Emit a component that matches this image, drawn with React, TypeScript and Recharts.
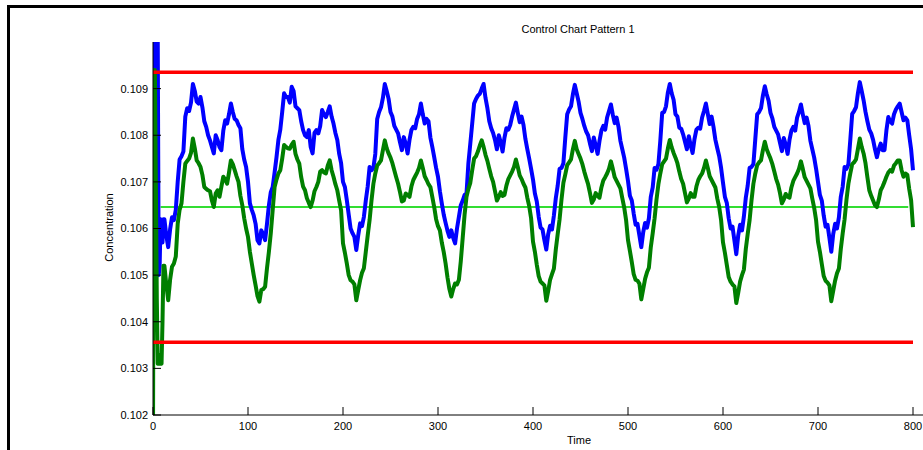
import React from 'react';
import { LineChart, Line, XAxis, YAxis } from 'recharts';

const FONT = '"Liberation Sans", Arial, sans-serif';

// Time stamps (x values)
const TIME = [
  0, 1, 2, 3, 4, 5, 6, 7, 8, 9, 10, 11,
  12, 14, 16, 18, 20, 22, 24, 26, 28, 30, 32, 34, 36, 38, 40, 42, 44, 46, 48, 50,
  52, 54, 56, 58, 60, 62, 64, 66, 68, 70, 72, 74, 76, 78, 80, 82, 84, 86, 88, 90, 92, 94, 96, 98,
  100, 102, 104, 106, 108, 110, 112, 114, 116, 118, 120, 122, 124, 126, 128, 130, 132, 134, 136, 138,
  140, 142, 144, 146, 148, 150, 152, 154, 156, 158, 160, 162, 164, 166, 168, 170, 172, 174, 176, 178,
  180, 182, 184, 186, 188, 190, 192, 194, 196, 198,
  200, 202, 204, 206, 208, 210, 212, 214, 216, 218, 220, 222, 224, 226, 228, 230, 232, 234, 236, 238,
  240, 242, 244, 246, 248, 250, 252, 254, 256, 258, 260, 262, 264, 266, 268, 270, 272, 274, 276, 278,
  280, 282, 284, 286, 288, 290, 292, 294, 296, 298,
  300, 302, 304, 306, 308, 310, 312, 314, 316, 318, 320, 322, 324, 326, 328, 330, 332, 334, 336, 338,
  340, 342, 344, 346, 348, 350, 352, 354, 356, 358, 360, 362, 364, 366, 368, 370, 372, 374, 376, 378,
  380, 382, 384, 386, 388, 390, 392, 394, 396, 398,
  400, 402, 404, 406, 408, 410, 412, 414, 416, 418, 420, 422, 424, 426, 428, 430, 432, 434, 436, 438,
  440, 442, 444, 446, 448, 450, 452, 454, 456, 458, 460, 462, 464, 466, 468, 470, 472, 474, 476, 478,
  480, 482, 484, 486, 488, 490, 492, 494, 496, 498,
  500, 502, 504, 506, 508, 510, 512, 514, 516, 518, 520, 522, 524, 526, 528, 530, 532, 534, 536, 538,
  540, 542, 544, 546, 548, 550, 552, 554, 556, 558, 560, 562, 564, 566, 568, 570, 572, 574, 576, 578,
  580, 582, 584, 586, 588, 590, 592, 594, 596, 598,
  600, 602, 604, 606, 608, 610, 612, 614, 616, 618, 620, 622, 624, 626, 628, 630, 632, 634, 636, 638,
  640, 642, 644, 646, 648, 650, 652, 654, 656, 658, 660, 662, 664, 666, 668, 670, 672, 674, 676, 678,
  680, 682, 684, 686, 688, 690, 692, 694, 696, 698,
  700, 702, 704, 706, 708, 710, 712, 714, 716, 718, 720, 722, 724, 726, 728, 730, 732, 734, 736, 738,
  740, 742, 744, 746, 748, 750, 752, 754, 756, 758, 760, 762, 764, 766, 768, 770, 772, 774, 776, 778,
  780, 782, 784, 786, 788, 790, 792, 794, 796, 798,
  800,
];

// Blue series (concentration)
const BLUE = [
  0.1048, 0.1085, 0.1125, 0.1125, 0.1125, 0.1100, 0.1050, 0.1052, 0.1062, 0.1060, 0.1057, 0.1062,
  0.10620, 0.10585, 0.10560, 0.10598, 0.10624, 0.10618, 0.10640, 0.10700, 0.10748, 0.10755,
  0.10765, 0.10840, 0.10858, 0.10852, 0.10870, 0.10910, 0.10895, 0.10872, 0.10868, 0.10882,
  0.10860, 0.10830, 0.10818, 0.10800, 0.10789, 0.10775, 0.10761, 0.10800, 0.10790, 0.10775,
  0.10768, 0.10810, 0.10832, 0.10825, 0.10845, 0.10868, 0.10850, 0.10835, 0.10832, 0.10822,
  0.10815, 0.10770, 0.10748, 0.10732,
  // 100
  0.10700, 0.10654, 0.10640, 0.10628, 0.10610, 0.10575, 0.10568, 0.10596, 0.10588, 0.10575,
  0.10610, 0.10650, 0.10678, 0.10689, 0.10720, 0.10753, 0.10790, 0.10812, 0.10850, 0.10890,
  0.10882, 0.10882, 0.10870, 0.10904, 0.10895, 0.10862, 0.10858, 0.10854, 0.10830, 0.10811,
  0.10800, 0.10796, 0.10811, 0.10775, 0.10761, 0.10805, 0.10811, 0.10804, 0.10820, 0.10854,
  0.10845, 0.10839, 0.10850, 0.10862, 0.10840, 0.10825, 0.10805, 0.10790, 0.10760, 0.10740,
  // 200
  0.10700, 0.10689, 0.10661, 0.10630, 0.10600, 0.10590, 0.10582, 0.10554, 0.10585, 0.10611,
  0.10605, 0.10625, 0.10660, 0.10690, 0.10732, 0.10725, 0.10730, 0.10760, 0.10835, 0.10850,
  0.10860, 0.10880, 0.10910, 0.10895, 0.10878, 0.10850, 0.10840, 0.10820, 0.10812, 0.10804,
  0.10785, 0.10768, 0.10796, 0.10782, 0.10761, 0.10790, 0.10811, 0.10818, 0.10815, 0.10835,
  0.10845, 0.10868, 0.10845, 0.10825, 0.10835, 0.10830, 0.10795, 0.10775, 0.10753, 0.10730,
  // 300
  0.10711, 0.10680, 0.10654, 0.10630, 0.10612, 0.10595, 0.10582, 0.10596, 0.10580, 0.10568,
  0.10600, 0.10625, 0.10650, 0.10660, 0.10672, 0.10675, 0.10740, 0.10782, 0.10825, 0.10868,
  0.10878, 0.10885, 0.10889, 0.10900, 0.10910, 0.10880, 0.10858, 0.10830, 0.10815, 0.10805,
  0.10790, 0.10770, 0.10800, 0.10785, 0.10765, 0.10795, 0.10815, 0.10812, 0.10822, 0.10840,
  0.10855, 0.10870, 0.10848, 0.10828, 0.10840, 0.10822, 0.10792, 0.10770, 0.10750, 0.10728,
  // 400
  0.10705, 0.10675, 0.10658, 0.10625, 0.10602, 0.10598, 0.10575, 0.10555, 0.10588, 0.10606,
  0.10598, 0.10628, 0.10665, 0.10692, 0.10728, 0.10730, 0.10740, 0.10795, 0.10845, 0.10855,
  0.10862, 0.10888, 0.10908, 0.10890, 0.10872, 0.10848, 0.10835, 0.10820, 0.10808, 0.10800,
  0.10782, 0.10766, 0.10795, 0.10778, 0.10760, 0.10788, 0.10810, 0.10820, 0.10812, 0.10838,
  0.10852, 0.10866, 0.10844, 0.10826, 0.10838, 0.10818, 0.10788, 0.10770, 0.10752, 0.10728,
  // 500
  0.10702, 0.10670, 0.10660, 0.10632, 0.10608, 0.10610, 0.10585, 0.10560, 0.10592, 0.10612,
  0.10602, 0.10622, 0.10668, 0.10688, 0.10730, 0.10726, 0.10738, 0.10788, 0.10848, 0.10850,
  0.10862, 0.10892, 0.10910, 0.10890, 0.10876, 0.10845, 0.10840, 0.10816, 0.10814, 0.10802,
  0.10786, 0.10770, 0.10798, 0.10778, 0.10762, 0.10792, 0.10812, 0.10816, 0.10814, 0.10838,
  0.10852, 0.10868, 0.10846, 0.10824, 0.10840, 0.10818, 0.10790, 0.10772, 0.10755, 0.10730,
  // 600
  0.10698, 0.10668, 0.10655, 0.10622, 0.10600, 0.10604, 0.10575, 0.10545, 0.10585, 0.10608,
  0.10596, 0.10626, 0.10666, 0.10692, 0.10730, 0.10732, 0.10738, 0.10792, 0.10845, 0.10850,
  0.10858, 0.10885, 0.10905, 0.10888, 0.10874, 0.10848, 0.10836, 0.10818, 0.10810, 0.10802,
  0.10784, 0.10766, 0.10794, 0.10780, 0.10760, 0.10790, 0.10810, 0.10818, 0.10810, 0.10838,
  0.10850, 0.10866, 0.10845, 0.10826, 0.10838, 0.10820, 0.10788, 0.10770, 0.10752, 0.10728,
  // 700
  0.10700, 0.10672, 0.10660, 0.10628, 0.10604, 0.10608, 0.10580, 0.10550, 0.10588, 0.10610,
  0.10600, 0.10624, 0.10668, 0.10690, 0.10732, 0.10728, 0.10738, 0.10790, 0.10846, 0.10852,
  0.10860, 0.10890, 0.10914, 0.10895, 0.10875, 0.10850, 0.10830, 0.10812, 0.10804, 0.10790,
  0.10770, 0.10753, 0.10770, 0.10782, 0.10768, 0.10768, 0.10810, 0.10839, 0.10830, 0.10825,
  0.10845, 0.10855, 0.10862, 0.10868, 0.10850, 0.10832, 0.10838, 0.10832, 0.10800, 0.10770,
  0.10725,
];

// Green series (concentration)
const GREEN = [
  0.1015, 0.1094, 0.1094, 0.1070, 0.1045, 0.1031, 0.1032, 0.1031, 0.1033, 0.1031, 0.1040, 0.1052,
  0.10520, 0.10480, 0.10446, 0.10490, 0.10518, 0.10525, 0.10540, 0.10610, 0.10640, 0.10654,
  0.10700, 0.10739, 0.10745, 0.10750, 0.10762, 0.10793, 0.10772, 0.10746, 0.10740, 0.10732,
  0.10715, 0.10689, 0.10685, 0.10682, 0.10680, 0.10660, 0.10646, 0.10675, 0.10682, 0.10668,
  0.10690, 0.10711, 0.10705, 0.10696, 0.10720, 0.10746, 0.10738, 0.10725, 0.10712, 0.10700,
  0.10670, 0.10650, 0.10622, 0.10600,
  // 100
  0.10582, 0.10550, 0.10525, 0.10500, 0.10478, 0.10455, 0.10443, 0.10468, 0.10470, 0.10475,
  0.10515, 0.10550, 0.10590, 0.10640, 0.10689, 0.10705, 0.10718, 0.10725, 0.10750, 0.10779,
  0.10775, 0.10772, 0.10771, 0.10780, 0.10786, 0.10760, 0.10748, 0.10739, 0.10710, 0.10690,
  0.10682, 0.10665, 0.10655, 0.10646, 0.10660, 0.10680, 0.10689, 0.10700, 0.10722, 0.10725,
  0.10720, 0.10718, 0.10735, 0.10746, 0.10725, 0.10711, 0.10695, 0.10682, 0.10660, 0.10639,
  // 200
  0.10568, 0.10548, 0.10525, 0.10500, 0.10489, 0.10486, 0.10480, 0.10446, 0.10468, 0.10489,
  0.10505, 0.10515, 0.10550, 0.10585, 0.10618, 0.10660, 0.10696, 0.10718, 0.10735, 0.10740,
  0.10746, 0.10768, 0.10789, 0.10772, 0.10761, 0.10752, 0.10740, 0.10725, 0.10710, 0.10696,
  0.10678, 0.10658, 0.10660, 0.10675, 0.10672, 0.10668, 0.10690, 0.10704, 0.10712, 0.10720,
  0.10730, 0.10746, 0.10730, 0.10712, 0.10704, 0.10695, 0.10689, 0.10668, 0.10646, 0.10620,
  // 300
  0.10605, 0.10596, 0.10570, 0.10550, 0.10525, 0.10495, 0.10470, 0.10454, 0.10470, 0.10482,
  0.10480, 0.10490, 0.10530, 0.10580, 0.10630, 0.10668, 0.10685, 0.10698, 0.10725, 0.10750,
  0.10755, 0.10765, 0.10778, 0.10789, 0.10775, 0.10758, 0.10745, 0.10728, 0.10712, 0.10700,
  0.10680, 0.10660, 0.10668, 0.10678, 0.10670, 0.10672, 0.10692, 0.10706, 0.10714, 0.10722,
  0.10732, 0.10748, 0.10732, 0.10714, 0.10706, 0.10696, 0.10688, 0.10666, 0.10648, 0.10622,
  // 400
  0.10572, 0.10550, 0.10522, 0.10498, 0.10486, 0.10482, 0.10478, 0.10445, 0.10466, 0.10490,
  0.10502, 0.10514, 0.10555, 0.10588, 0.10620, 0.10662, 0.10698, 0.10716, 0.10736, 0.10742,
  0.10748, 0.10770, 0.10788, 0.10770, 0.10760, 0.10750, 0.10738, 0.10722, 0.10708, 0.10695,
  0.10676, 0.10655, 0.10662, 0.10676, 0.10670, 0.10666, 0.10688, 0.10703, 0.10710, 0.10718,
  0.10728, 0.10744, 0.10728, 0.10710, 0.10702, 0.10694, 0.10686, 0.10665, 0.10645, 0.10618,
  // 500
  0.10575, 0.10552, 0.10528, 0.10502, 0.10490, 0.10488, 0.10482, 0.10448, 0.10470, 0.10492,
  0.10506, 0.10516, 0.10560, 0.10590, 0.10622, 0.10662, 0.10695, 0.10718, 0.10738, 0.10744,
  0.10750, 0.10772, 0.10790, 0.10774, 0.10762, 0.10752, 0.10740, 0.10722, 0.10706, 0.10696,
  0.10676, 0.10656, 0.10664, 0.10676, 0.10668, 0.10668, 0.10690, 0.10704, 0.10712, 0.10718,
  0.10730, 0.10746, 0.10730, 0.10712, 0.10704, 0.10696, 0.10688, 0.10664, 0.10646, 0.10618,
  // 600
  0.10570, 0.10548, 0.10522, 0.10496, 0.10486, 0.10480, 0.10476, 0.10440, 0.10462, 0.10486,
  0.10500, 0.10512, 0.10556, 0.10588, 0.10618, 0.10660, 0.10696, 0.10718, 0.10736, 0.10742,
  0.10746, 0.10768, 0.10786, 0.10770, 0.10760, 0.10750, 0.10738, 0.10722, 0.10706, 0.10694,
  0.10676, 0.10654, 0.10662, 0.10674, 0.10668, 0.10666, 0.10688, 0.10702, 0.10710, 0.10718,
  0.10728, 0.10744, 0.10728, 0.10710, 0.10702, 0.10694, 0.10686, 0.10664, 0.10644, 0.10618,
  // 700
  0.10572, 0.10550, 0.10524, 0.10498, 0.10488, 0.10484, 0.10478, 0.10444, 0.10466, 0.10488,
  0.10504, 0.10514, 0.10556, 0.10590, 0.10620, 0.10662, 0.10696, 0.10718, 0.10738, 0.10742,
  0.10748, 0.10770, 0.10793, 0.10775, 0.10761, 0.10740, 0.10710, 0.10682, 0.10670, 0.10660,
  0.10650, 0.10646, 0.10662, 0.10682, 0.10690, 0.10700, 0.10711, 0.10720, 0.10725, 0.10722,
  0.10735, 0.10740, 0.10746, 0.10746, 0.10725, 0.10711, 0.10718, 0.10715, 0.10685, 0.10661,
  0.10603,
];

// Control limits
const UCL = 0.10935;
const CENTER = 0.10646;
const LCL = 0.10356;
const LIMIT_SPAN = [0, 800];
const CENTER_SPAN = [8, 795];

const X_TICKS = [0, 100, 200, 300, 400, 500, 600, 700, 800, 900];
const Y_TICKS = [0.102, 0.103, 0.104, 0.105, 0.106, 0.107, 0.108, 0.109];

const data = TIME.map((t, i) => ({ t, blue: BLUE[i], green: GREEN[i] }));
const uclData = LIMIT_SPAN.map((t) => ({ t, v: UCL }));
const lclData = LIMIT_SPAN.map((t) => ({ t, v: LCL }));
const clData = CENTER_SPAN.map((t) => ({ t, v: CENTER }));

const tickStyle = { fill: '#000', fontSize: 11, fontFamily: FONT };
const textStyle: React.CSSProperties = {
  position: 'absolute',
  fontFamily: FONT,
  fontSize: 11,
  lineHeight: '13px',
  color: '#000',
  textAlign: 'center',
  whiteSpace: 'nowrap',
};

export default function App() {
  return (
    <div
      style={{
        position: 'absolute',
        left: 7,
        top: 5,
        width: 916,
        height: 445,
        boxSizing: 'border-box',
        borderTop: '3px solid #000',
        borderLeft: '3px solid #000',
        overflow: 'hidden',
        background: '#fff',
      }}
    >
      <LineChart
        width={1100}
        height={442}
        data={data}
        margin={{ top: 34, right: 102, bottom: 5, left: 83 }}
      >
        <XAxis
          type="number"
          dataKey="t"
          domain={[0, 900]}
          ticks={X_TICKS}
          interval={0}
          tickSize={-8}
          tickMargin={15}
          height={30}
          stroke="#000"
          tick={tickStyle}
          allowDataOverflow
        />
        <YAxis
          type="number"
          domain={[0.102, 0.11]}
          ticks={Y_TICKS}
          interval={0}
          tickSize={-8}
          tickMargin={13}
          width={60}
          stroke="#000"
          tick={tickStyle}
          tickFormatter={(v: number) => v.toFixed(3)}
          allowDataOverflow
        />
        <Line
          data={clData}
          dataKey="v"
          stroke="#33DD33"
          strokeWidth={2}
          dot={false}
          activeDot={false}
          isAnimationActive={false}
        />
        <Line
          dataKey="blue"
          stroke="#0000FF"
          strokeWidth={4}
          strokeLinejoin="round"
          dot={false}
          activeDot={false}
          isAnimationActive={false}
        />
        <Line
          dataKey="green"
          stroke="#007F00"
          strokeWidth={4}
          strokeLinejoin="round"
          dot={false}
          activeDot={false}
          isAnimationActive={false}
        />
        <Line
          data={uclData}
          dataKey="v"
          stroke="#FF0000"
          strokeWidth={3.5}
          dot={false}
          activeDot={false}
          isAnimationActive={false}
        />
        <Line
          data={lclData}
          dataKey="v"
          stroke="#FF0000"
          strokeWidth={3.5}
          dot={false}
          activeDot={false}
          isAnimationActive={false}
        />
      </LineChart>
      <div style={{ ...textStyle, left: 468, top: 15, width: 200 }}>Control Chart Pattern 1</div>
      <div style={{ ...textStyle, left: 519, top: 426, width: 100 }}>Time</div>
      <div
        style={{
          ...textStyle,
          left: 39,
          top: 213,
          width: 120,
          transform: 'rotate(-90deg)',
        }}
      >
        Concentration
      </div>
    </div>
  );
}
